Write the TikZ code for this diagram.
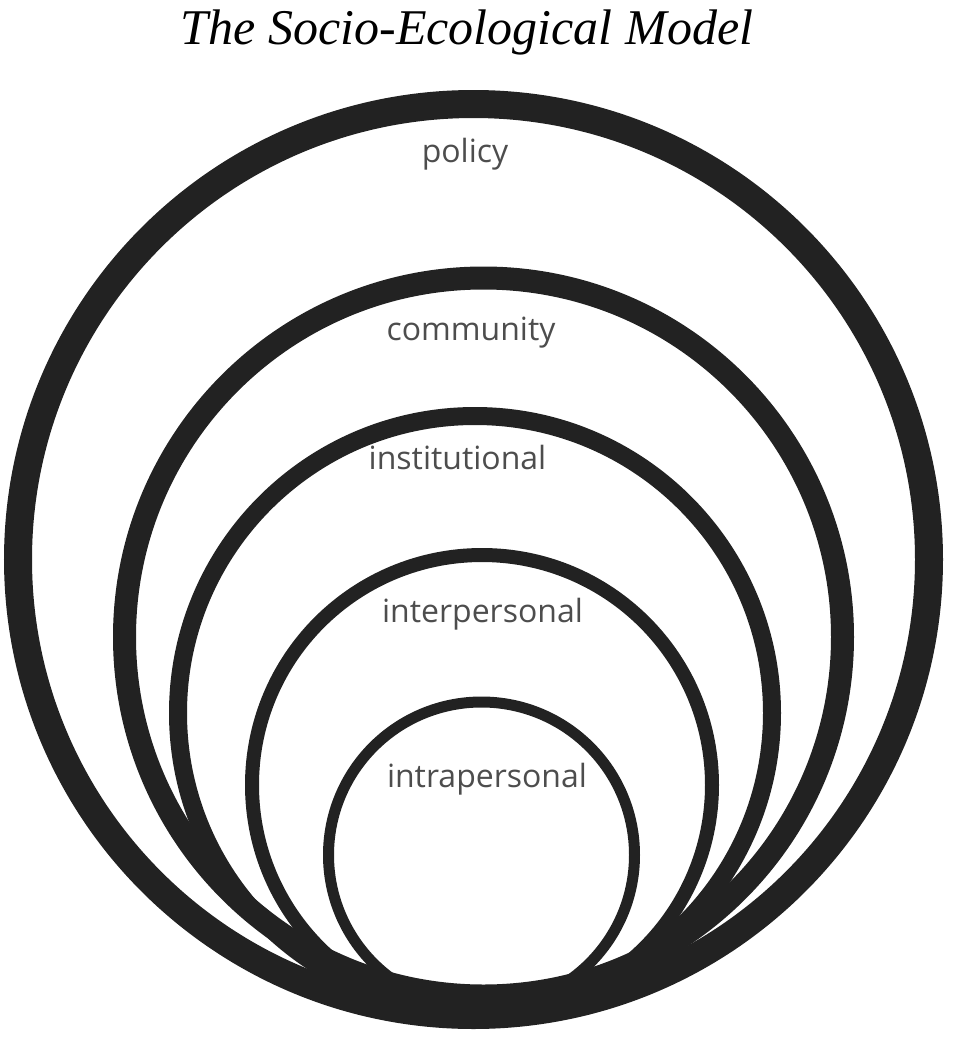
\documentclass[tikz,border=0pt]{standalone}
\usepackage{fontspec}
\setmainfont{Liberation Serif}
\newfontfamily\labelfont{Open Sans}
\definecolor{ringcol}{HTML}{222222}
\definecolor{labcol}{HTML}{4D4D4D}
\begin{document}
\begin{tikzpicture}[x=1pt,y=-1pt,
  ring/.style={draw=ringcol},
  lab/.style={font=\labelfont\fontsize{32}{38}\selectfont, text=labcol, anchor=base, inner sep=0pt},
  titlestyle/.style={font=\fontsize{50}{60}\selectfont\itshape, text=black, anchor=base, inner sep=0pt}]
\useasboundingbox (0,0) rectangle (954,1037);
\node[titlestyle] (title) at (467,44) {The Socio-Ecological Model};
% rings
\draw[ring, line width=28pt] (473.5,559.5) circle[radius=455.5];
\draw[ring, line width=23pt] (483.5,637) circle[radius=359];
\draw[ring, line width=18pt] (475,713) circle[radius=297];
\draw[ring, line width=14pt] (482,785) circle[radius=230];
\draw[ring, line width=11pt] (481.5,855) circle[radius=153];
% labels
\node[lab] (policy) at (465,162) {policy};
\node[lab] (community) at (471,340) {community};
\node[lab] (institutional) at (457.5,469) {institutional};
\node[lab] (interpersonal) at (482.5,622) {interpersonal};
\node[lab] (intrapersonal) at (487,787) {intrapersonal};
\end{tikzpicture}
\end{document}
